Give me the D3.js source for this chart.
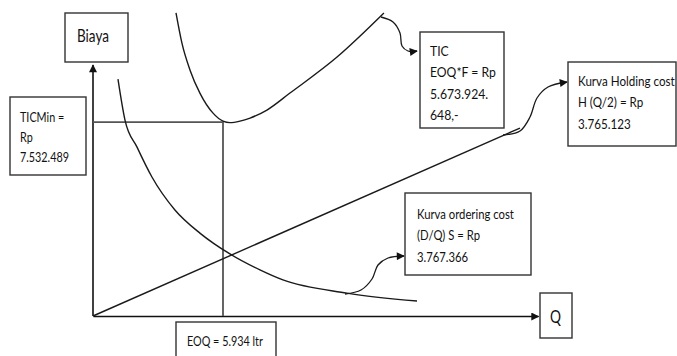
<!DOCTYPE html>
<html>
<head>
<meta charset="utf-8">
<script src="https://cdn.jsdelivr.net/npm/d3@7"></script>
<style>
body{margin:0;background:#fff;}
svg{display:block;font-family:Lato,"Open Sans",sans-serif;}
</style>
</head>
<body>
<svg id="chart" width="677" height="356"></svg>
<script>
'use strict'
// Q in ltr, biaya in juta Rp
var ticQ      = [3790, 4060, 4430, 4880, 5480, 5934, 6250, 6710, 7170, 7940, 8990, 11140, 13280];
var ticCost   = [11.77, 10.60, 9.55, 8.66, 7.88, 7.57, 7.51, 7.57, 7.69, 8.00, 8.66, 10.06, 11.77];
var orderQ    = [1140, 1460, 2010, 2690, 3740, 4880, 6250, 7620, 8670, 11590, 14790];
var orderCost = [9.20, 7.61, 6.56, 5.40, 4.12, 3.22, 2.41, 1.79, 1.40, 0.89, 0.58];
var holdQ     = [0, 19490];
var holdCost  = [0, 7.30];
var eoq = 5934;
var ticMin = 7.532489;
var qMax = 20313;
var costMax = 9.75;

var yLabel       = ["Biaya"];
var xLabel       = ["Q"];
var ticMinLabel  = ["TICMin =", "Rp", "7.532.489"];
var ticLabel     = ["TIC", "EOQ*F = Rp", "5.673.924.", "648,-"];
var holdLabel    = ["Kurva Holding cost", "H (Q/2) = Rp", "3.765.123"];
var orderLabel   = ["Kurva ordering cost", "(D/Q) S = Rp", "3.767.366"];
var eoqLabel     = ["EOQ = 5.934 ltr"];

var svg = d3.select("#chart");
var x = d3.scaleLinear().domain([0, qMax]).range([93, 538]);
var y = d3.scaleLinear().domain([0, costMax]).range([316, 65]);

var defs = svg.append("defs");
defs.append("marker")
	.attr("id", "head")
	.attr("viewBox", "0 0 10 10")
	.attr("refX", 9).attr("refY", 5)
	.attr("markerWidth", 9).attr("markerHeight", 8)
	.attr("markerUnits", "userSpaceOnUse")
	.attr("orient", "auto")
  .append("path")
	.attr("d", "M0,0L10,5L0,10Z")
	.attr("fill", "#111");

// axes, no ticks, just the domain line with an arrow
var gx = svg.append("g").attr("transform", "translate(0," + y(0) + ")")
	.call(d3.axisBottom(x).ticks(0).tickSizeOuter(0));
var gy = svg.append("g").attr("transform", "translate(" + x(0) + ",0)")
	.call(d3.axisLeft(y).ticks(0).tickSizeOuter(0));
gx.select(".domain").attr("stroke", "#111").attr("stroke-width", 1.6).attr("marker-end", "url(#head)");
gy.select(".domain").attr("stroke", "#111").attr("stroke-width", 1.6)
	.attr("d", "M0," + y(0) + "V" + y(costMax));
gy.select(".domain").attr("marker-end", "url(#head)");

// TICMin / EOQ guide lines
svg.append("path")
	.attr("d", "M" + x(0) + "," + y(ticMin) + "H" + x(eoq) + "V" + y(0))
	.attr("fill", "none").attr("stroke", "#555").attr("stroke-width", 1.8);

var line = d3.line().x(d => x(d[0])).y(d => y(d[1])).curve(d3.curveMonotoneX);
var curves = [
	d3.zip(ticQ, ticCost),
	d3.zip(orderQ, orderCost),
	d3.zip(holdQ, holdCost)
];
svg.selectAll("path.curve")
	.data(curves).enter().append("path")
	.attr("class", "curve")
	.attr("d", line)
	.attr("fill", "none")
	.attr("stroke", "#1a1a1a")
	.attr("stroke-width", 1.4);

// callout arrows
var callouts = [
	[[381, 17], [393, 22], [400, 33], [402, 46], [408, 51], [417, 51]],
	[[503, 135], [520, 131], [530, 117], [537, 98], [548, 87], [567, 82]],
	[[345, 294], [361, 290], [372, 279], [378, 265], [388, 258], [404, 256]]
];
svg.selectAll("path.callout")
	.data(callouts).enter().append("path")
	.attr("class", "callout")
	.attr("d", d3.line().curve(d3.curveCatmullRom))
	.attr("fill", "none")
	.attr("stroke", "#1a1a1a")
	.attr("stroke-width", 1.3)
	.attr("marker-end", "url(#head)");

// text boxes; fit = width of the widest line in the original (Calibri is narrow)
var boxes = [
	{lines: yLabel,      x: 65,  y: 13,  w: 63,  h: 49, tx: 77,  ty: 42,  dy: 0,    size: 16.5, fit: 32},
	{lines: ticMinLabel, x: 10,  y: 97,  w: 76,  h: 78, tx: 20,  ty: 122, dy: 20,   size: 13.5, fit: 49},
	{lines: ticLabel,    x: 420, y: 32,  w: 84,  h: 96, tx: 430, ty: 56,  dy: 21.5, size: 13.5, fit: 66},
	{lines: holdLabel,   x: 568, y: 62,  w: 108, h: 84, tx: 578, ty: 86,  dy: 21.5, size: 13.5, fit: 97},
	{lines: orderLabel,  x: 405, y: 193, w: 126, h: 82, tx: 417, ty: 219, dy: 21.5, size: 13.5, fit: 97},
	{lines: xLabel,      x: 540, y: 293, w: 32,  h: 45, tx: 550, ty: 323, dy: 0,    size: 17.5, fit: 11},
	{lines: eoqLabel,    x: 176, y: 322, w: 100, h: 40, tx: 187, ty: 346, dy: 0,    size: 13.5, fit: 76}
];
var gb = svg.selectAll("g.box").data(boxes).enter().append("g").attr("class", "box");
gb.append("rect")
	.attr("x", d => d.x).attr("y", d => d.y)
	.attr("width", d => d.w).attr("height", d => d.h)
	.attr("fill", "#fff").attr("stroke", "#333").attr("stroke-width", 1.4);
gb.each(function(d){
	var t = d3.select(this).append("text")
		.attr("font-size", d.size)
		.attr("fill", "#111");
	d.lines.forEach(function(s, i){
		t.append("tspan").attr("x", d.tx).attr("y", d.ty + i * d.dy).text(s);
	});
	var k = d.fit / t.node().getBBox().width;
	t.attr("transform", "translate(" + d.tx + ",0) scale(" + k + ",1) translate(" + (-d.tx) + ",0)");
});
</script>
</body>
</html>
